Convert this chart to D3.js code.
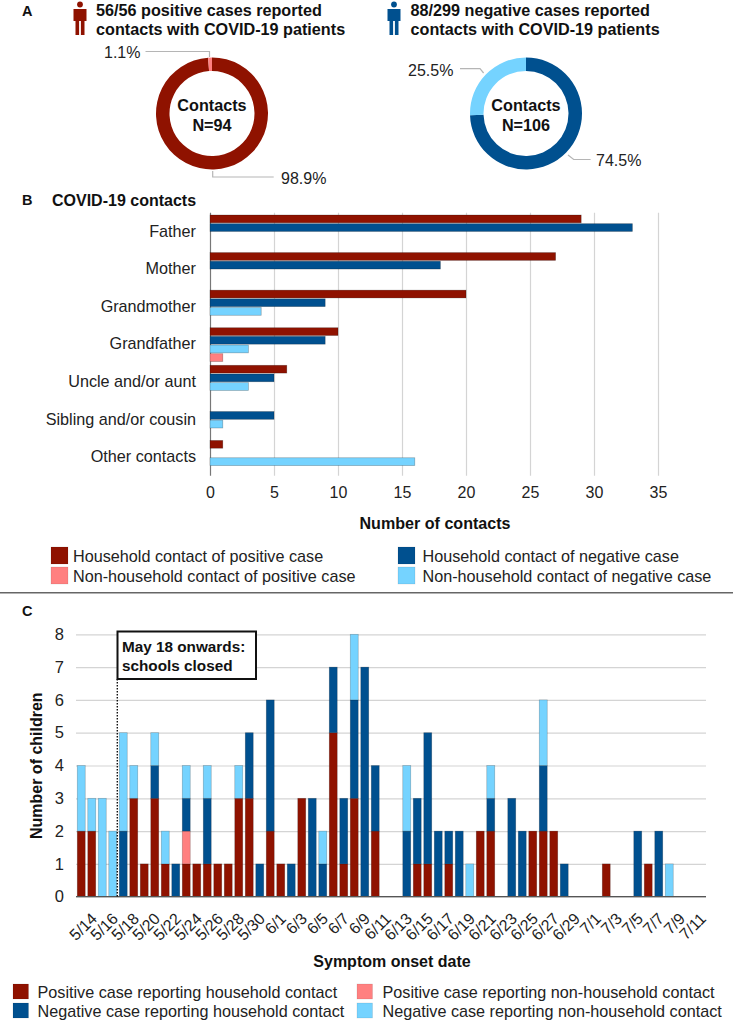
<!DOCTYPE html>
<html><head><meta charset="utf-8">
<script src="https://cdnjs.cloudflare.com/ajax/libs/d3/7.8.5/d3.min.js"></script>
<style>
html,body{margin:0;padding:0;background:#fff}
svg{display:block}
text{font-family:"Liberation Sans",Arial,sans-serif;fill:#222}
.b{font-weight:700;fill:#111}
</style></head><body>
<div id="c"></div>
<script>
const RED="#8f1200",PINK="#ff8080",NEG="#00508f",LIGHT="#75d3ff";

// Panel A
const posShares=[98.9,1.1];
const negShares=[74.5,25.5];
const posDonutColors=[RED,PINK];
const negDonutColors=[NEG,LIGHT];

// Panel B
const relations=["Father","Mother","Grandmother","Grandfather","Uncle and/or aunt","Sibling and/or cousin","Other contacts"];
const hhPositive=[29,27,20,10,6,0,1];
const hhNegative=[33,18,9,9,5,5,0];
const nonHhNegative=[0,0,4,3,3,1,16];
const nonHhPositive=[0,0,0,1,0,0,0];
const contactTicks=[0,5,10,15,20,25,30,35];

// Panel C
const onsetDates=["5/14","5/15","5/16","5/17","5/18","5/19","5/20","5/21","5/22","5/23","5/24","5/25","5/26","5/27","5/28","5/29","5/30","5/31",
"6/1","6/2","6/3","6/4","6/5","6/6","6/7","6/8","6/9","6/10","6/11","6/12","6/13","6/14","6/15","6/16","6/17","6/18","6/19","6/20","6/21","6/22","6/23","6/24","6/25","6/26","6/27","6/28","6/29","6/30",
"7/1","7/2","7/3","7/4","7/5","7/6","7/7","7/8","7/9","7/10","7/11","7/12"];
const posHousehold=[2,2,0,0,0,3,1,3,1,0,1,1,1,1,1,3,3,0,2,1,0,3,0,0,5,1,3,0,2,0,0,0,1,1,0,1,0,0,2,2,0,0,0,2,2,2,0,0,0,0,1,0,0,0,1,0,0,0,0,0];
const posNonHousehold=[0,0,0,0,0,0,0,0,0,0,1,0,0,0,0,0,0,0,0,0,0,0,0,0,0,0,0,0,0,0,0,0,0,0,0,0,0,0,0,0,0,0,0,0,0,0,0,0,0,0,0,0,0,0,0,0,0,0,0,0];
const negHousehold=[0,0,0,0,2,0,0,1,0,1,1,0,2,0,0,0,2,1,4,0,1,0,3,1,2,2,3,7,2,0,0,2,2,4,2,1,2,0,0,1,0,3,2,0,2,0,1,0,0,0,0,0,0,2,0,2,0,0,0,0];
const negNonHousehold=[2,1,3,2,3,1,0,1,1,0,1,0,1,0,0,1,0,0,0,0,0,0,0,1,0,0,2,0,0,0,0,2,0,0,0,0,0,1,0,1,0,0,0,0,2,0,0,0,0,0,0,0,0,0,0,0,1,0,0,0];
const childTicks=[0,1,2,3,4,5,6,7,8];

const svg=d3.select("#c").append("svg").attr("width",733).attr("height",1021);
const txt=(x,y,s,size,cls,anchor)=>svg.append("text").attr("x",x).attr("y",y).attr("font-size",size)
  .attr("class",cls||null).attr("text-anchor",anchor||"start").attr("dominant-baseline","central").text(s);

// panel letters
txt(22,11,"A",14.5,"b"); txt(22,200,"B",14.5,"b"); txt(22,611,"C",14.5,"b");

// person icon
function person(cx,color){
  const g=svg.append("g").attr("fill",color);
  g.append("circle").attr("cx",cx).attr("cy",4.5).attr("r",2.9);
  g.append("path").attr("d",`M${cx-6.5} 9h13v12h-2v14h-3.6v-14h-1.8v14h-3.6v-14h-2z`);
}
person(80,RED); person(394,NEG);
txt(96,9.5,"56/56 positive cases reported",16.2,"b");
txt(96,29,"contacts with COVID-19 patients",16.2,"b");
txt(410.5,9.5,"88/299 negative cases reported",16.2,"b");
txt(410.5,29,"contacts with COVID-19 patients",16.2,"b");

// donuts
function donut(cx,cy,vals,cols,n){
  const pie=d3.pie().sort(null)(vals);
  const arc=d3.arc().innerRadius(42.5).outerRadius(56);
  svg.append("g").attr("transform",`translate(${cx},${cy})`).selectAll("path").data(pie).join("path")
    .attr("d",arc).attr("fill",(d,i)=>cols[i]);
  txt(cx,105,"Contacts",16.2,"b","middle");
  txt(cx,125,n,16.2,"b","middle");
}
donut(212,113.5,posShares,posDonutColors,"N=94");
donut(526,113.5,negShares,negDonutColors,"N=106");
const lead=(p)=>svg.append("polyline").attr("points",p).attr("fill","none").attr("stroke","#b5b5b5").attr("stroke-width",1.2);
lead("145.5,51.5 209.5,51.5 209.5,57");
lead("212.7,171 212.7,177 273.7,177");
lead("460,68.7 480,68.7 483.6,73");
lead("568,155 573.7,159.5 590.6,159.5");
txt(104,52,posShares[1]+"%",16);
txt(281,178,posShares[0]+"%",16);
txt(408,70,negShares[1]+"%",16);
txt(596,160,negShares[0]+"%",16);

// Panel B
txt(52,200,"COVID-19 contacts",16,"b");
const bx=d3.scaleLinear().domain([0,35]).range([210,658]);
const by=d3.scaleBand().domain(relations).range([212.7,475.7]);
const seriesB=[hhPositive,hhNegative,nonHhNegative,nonHhPositive];
const colB=[RED,NEG,LIGHT,PINK];
const slot=d3.scaleBand().domain([0,1,2,3]).range([2.3,36.1]).paddingInner(.1);
const gB=svg.append("g").attr("transform","translate(0,475.7)")
  .call(d3.axisBottom(bx).tickValues(contactTicks).tickSize(-263).tickPadding(11));
gB.select(".domain").remove();
gB.selectAll(".tick line").attr("stroke",d=>d===0?"#777":"#d4d4d4").attr("stroke-width",1.2);
gB.selectAll("text").attr("font-size",16).attr("font-family","Liberation Sans").attr("fill","#222");
seriesB.forEach((vals,s)=>{
  svg.append("g").selectAll("rect").data(vals.map((v,i)=>({v,r:relations[i]})).filter(d=>d.v>0)).join("rect")
    .attr("x",bx(0)).attr("y",d=>by(d.r)+slot(s))
    .attr("width",d=>bx(d.v)-bx(0)).attr("height",slot.bandwidth())
    .attr("fill",colB[s]).attr("stroke","#000").attr("stroke-opacity",.3).attr("stroke-width",.7);
});
const gBy=svg.append("g").attr("transform","translate(210,0)").call(d3.axisLeft(by).tickSize(0).tickPadding(14));
gBy.select(".domain").remove();
gBy.selectAll("text").attr("font-size",16.2).attr("font-family","Liberation Sans").attr("fill","#222");
txt(435,523,"Number of contacts",16.1,"b","middle");

function legend(items){
  items.forEach(([x,y,w,h,tx,color,label,size])=>{
    svg.append("rect").attr("x",x).attr("y",y).attr("width",w).attr("height",h).attr("fill",color)
      .attr("stroke","#000").attr("stroke-opacity",.12).attr("stroke-width",.7);
    txt(tx,y+h/2,label,size);
  });
}
legend([
 [51,547,17,17,73,RED,"Household contact of positive case",16.2],
 [51,567,17,17,73,PINK,"Non-household contact of positive case",16.2],
 [398,547,17,17,422.5,NEG,"Household contact of negative case",16.2],
 [398,567,17,17,422.5,LIGHT,"Non-household contact of negative case",16.2]
]);
svg.append("line").attr("x1",0).attr("x2",733).attr("y1",592.7).attr("y2",592.7).attr("stroke","#666").attr("stroke-width",1.6);

// Panel C
const cx=d3.scaleBand().domain(onsetDates).range([76,706]).paddingInner(.24).paddingOuter(.12);
const cy=d3.scaleLinear().domain([0,8]).range([896.7,634.3]);
const gCy=svg.append("g").attr("transform","translate(76,0)")
  .call(d3.axisLeft(cy).tickValues(childTicks).tickSize(-630).tickPadding(12));
gCy.select(".domain").remove();
gCy.selectAll(".tick line").attr("stroke","#d4d4d4").attr("stroke-width",1.2);
gCy.selectAll("text").attr("font-size",16.5).attr("font-family","Liberation Sans").attr("fill","#222");
const keys=["posHousehold","posNonHousehold","negHousehold","negNonHousehold"];
const rows=onsetDates.map((d,i)=>({d,posHousehold:posHousehold[i],posNonHousehold:posNonHousehold[i],negHousehold:negHousehold[i],negNonHousehold:negNonHousehold[i]}));
const stacked=d3.stack().keys(keys)(rows);
const colC=[RED,PINK,NEG,LIGHT];
svg.append("g").selectAll("g").data(stacked).join("g").attr("fill",(d,i)=>colC[i])
  .selectAll("rect").data(d=>d.filter(p=>p[1]>p[0])).join("rect")
  .attr("x",p=>cx(p.data.d)).attr("width",cx.bandwidth())
  .attr("y",p=>cy(p[1])).attr("height",p=>cy(p[0])-cy(p[1]))
  .attr("stroke","#000").attr("stroke-opacity",.25).attr("stroke-width",.7);
svg.append("line").attr("x1",76).attr("x2",706).attr("y1",896.7).attr("y2",896.7).attr("stroke","#555").attr("stroke-width",1.2);
const gCx=svg.append("g").attr("transform","translate(0,896.7)")
  .call(d3.axisBottom(cx).tickValues(onsetDates.filter((d,i)=>i%2===0&&i<59)).tickSize(0).tickPadding(0));
gCx.select(".domain").remove();
gCx.selectAll("text").attr("font-size",16).attr("font-family","Liberation Sans").attr("fill","#222")
  .attr("text-anchor","end").attr("dominant-baseline","central").attr("dy",0)
  .attr("transform","translate(13,19) rotate(-45)").attr("y",0).attr("x",0);

svg.append("line").attr("x1",117.3).attr("x2",117.3).attr("y1",679).attr("y2",896.7)
  .attr("stroke","#111").attr("stroke-width",1.4).attr("stroke-dasharray","1.5,1.5");
svg.append("rect").attr("x",117.5).attr("y",631.5).attr("width",138.5).attr("height",47.5)
  .attr("fill","#fff").attr("stroke","#111").attr("stroke-width",2);
txt(122,646,"May 18 onwards:",15.3,"b");
txt(122,665.5,"schools closed",15.3,"b");

svg.append("text").attr("class","b").attr("font-size",16).attr("text-anchor","middle").attr("dominant-baseline","central")
  .attr("transform","translate(36,765.7) rotate(-90)").text("Number of children");
txt(392,961.7,"Symptom onset date",16,"b","middle");
legend([
 [13,984,15.5,15,37.5,RED,"Positive case reporting household contact",16.2],
 [13,1003,15.5,15,37.5,NEG,"Negative case reporting household contact",16.2],
 [357,984,15.5,15,382.5,PINK,"Positive case reporting non-household contact",16.2],
 [357,1003,15.5,15,382.5,LIGHT,"Negative case reporting non-household contact",16.2]
]);
</script>
</body></html>
